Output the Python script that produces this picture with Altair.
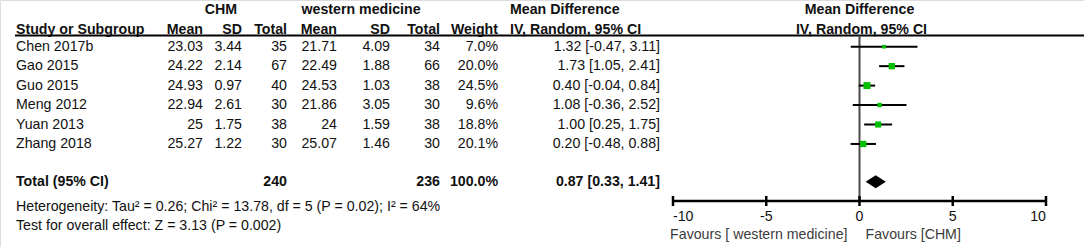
import altair as alt
import pandas as pd

# ---------------- data ----------------
studies = ["Chen 2017b", "Gao 2015", "Guo 2015", "Meng 2012", "Yuan 2013", "Zhang 2018"]
chm_mean = [23.03, 24.22, 24.93, 22.94, 25, 25.27]
chm_sd = [3.44, 2.14, 0.97, 2.61, 1.75, 1.22]
chm_total = [35, 67, 40, 30, 38, 30]
wm_mean = [21.71, 22.49, 24.53, 21.86, 24, 25.07]
wm_sd = [4.09, 1.88, 1.03, 3.05, 1.59, 1.46]
wm_total = [34, 66, 38, 30, 38, 30]
weight = [7.0, 20.0, 24.5, 9.6, 18.8, 20.1]
md = [1.32, 1.73, 0.40, 1.08, 1.00, 0.20]
ci_lo = [-0.47, 1.05, -0.04, -0.36, 0.25, -0.48]
ci_hi = [3.11, 2.41, 0.84, 2.52, 1.75, 0.88]

total_label = "Total (95% CI)"
total_chm = 240
total_wm = 236
total_weight = 100.0
pooled_md = 0.87
pooled_lo = 0.33
pooled_hi = 1.41

heterogeneity = "Heterogeneity: Tau\u00b2 = 0.26; Chi\u00b2 = 13.78, df = 5 (P = 0.02); I\u00b2 = 64%"
overall_effect = "Test for overall effect: Z = 3.13 (P = 0.002)"
axis_ticks = [-10.0, -5.0, 0.0, 5.0, 10.0]
favours_left = "Favours [ western medicine]"
favours_right = "Favours [CHM]"

# ---------------- layout ----------------
W, H = 1084, 247
X0, PPU = 859.5, 18.65          # pixel of 0 and pixels per unit on the effect axis
Y0, ROW = 46.7, 19.45           # pixel of first study row and row pitch
FONT = "Liberation Sans"
FS = 14.2
TXT = "#111111"
GREEN = "#00c000"

xs = alt.Scale(domain=[-X0 / PPU, (W - X0) / PPU], nice=False, zero=False)
ys = alt.Scale(domain=[-Y0 / ROW, (H - Y0) / ROW], nice=False, zero=False, reverse=True)

def prow(px):
    """pixel -> row units for layout elements"""
    return (px - Y0) / ROW

def fmt(v):
    return f"{v:g}"

rows = pd.DataFrame({
    "row": list(range(len(studies))),
    "study": studies,
    "chm_mean": [fmt(v) for v in chm_mean],
    "chm_sd": [f"{v:.2f}" for v in chm_sd],
    "chm_total": [str(v) for v in chm_total],
    "wm_mean": [fmt(v) for v in wm_mean],
    "wm_sd": [f"{v:.2f}" for v in wm_sd],
    "wm_total": [str(v) for v in wm_total],
    "weight": weight,
    "weight_txt": [f"{v:.1f}%" for v in weight],
    "md": md,
    "lo": ci_lo,
    "hi": ci_hi,
    "md_txt": [f"{m:.2f} [{l:.2f}, {h:.2f}]" for m, l, h in zip(md, ci_lo, ci_hi)],
})

TOTAL_ROW = 6.94
total_df = pd.DataFrame({
    "row": [TOTAL_ROW],
    "label": [total_label],
    "chm_total": [str(total_chm)],
    "wm_total": [str(total_wm)],
    "weight_txt": [f"{total_weight:.1f}%"],
    "md_txt": [f"{pooled_md:.2f} [{pooled_lo:.2f}, {pooled_hi:.2f}]"],
})

half = 6.5 / ROW
diamond = pd.DataFrame({
    "x": [pooled_lo, pooled_md, pooled_hi],
    "y": [TOTAL_ROW, TOTAL_ROW - half, TOTAL_ROW],
    "y2": [TOTAL_ROW, TOTAL_ROW + half, TOTAL_ROW],
})

layers = []

def one(text):
    return pd.DataFrame({"t": [text]})

def fixed_text(text, x, y, align="left", bold=False, color=TXT):
    return alt.Chart(one(text)).mark_text(
        align=align, baseline="middle", font=FONT, fontSize=FS,
        fontWeight="bold" if bold else "normal", color=color
    ).encode(x=alt.value(x), y=alt.value(y), text="t:N")

AXIS_Y = 201

# study rows
col_specs = [
    ("study", 16, "left"),
    ("chm_mean", 203, "right"),
    ("chm_sd", 242, "right"),
    ("chm_total", 287, "right"),
    ("wm_mean", 337, "right"),
    ("wm_sd", 390, "right"),
    ("wm_total", 440, "right"),
    ("weight_txt", 498, "right"),
    ("md_txt", 660, "right"),
]
for field, px, al in col_specs:
    layers.append(
        alt.Chart(rows).mark_text(align=al, baseline="middle", font=FONT, fontSize=FS, color=TXT)
        .encode(x=alt.value(px), y=alt.Y("row:Q", scale=ys, axis=None), text=f"{field}:N")
    )

# total row
for field, px, al in [("label", 16, "left"), ("chm_total", 287, "right"),
                      ("wm_total", 440, "right"), ("weight_txt", 498, "right"),
                      ("md_txt", 660, "right")]:
    layers.append(
        alt.Chart(total_df).mark_text(align=al, baseline="middle", font=FONT, fontSize=FS,
                                      fontWeight="bold", color=TXT)
        .encode(x=alt.value(px), y=alt.Y("row:Q", scale=ys, axis=None), text=f"{field}:N")
    )

# headers
HY1, HY2 = 10, 30
layers += [
    fixed_text("CHM", 221, HY1, "center", True),
    fixed_text("western medicine", 361, HY1, "center", True),
    fixed_text("Mean Difference", 510, HY1, "left", True),
    fixed_text("Study or Subgroup", 16, HY2, "left", True),
    fixed_text("Mean", 203, HY2, "right", True),
    fixed_text("SD", 242, HY2, "right", True),
    fixed_text("Total", 287, HY2, "right", True),
    fixed_text("Mean", 337, HY2, "right", True),
    fixed_text("SD", 390, HY2, "right", True),
    fixed_text("Total", 440, HY2, "right", True),
    fixed_text("Weight", 498, HY2, "right", True),
    fixed_text("IV, Random, 95% CI", 510, HY2, "left", True),
]
for text, y, dx in [("Mean Difference", HY1, 0), ("IV, Random, 95% CI", HY2, 2)]:
    layers.append(
        alt.Chart(pd.DataFrame({"x": [0], "t": [text]})).mark_text(
            align="center", baseline="middle", font=FONT, fontSize=FS, fontWeight="bold",
            color=TXT, dx=dx)
        .encode(x=alt.X("x:Q", scale=xs, axis=None), y=alt.value(y), text="t:N")
    )

# header underline
layers.append(
    alt.Chart(one("")).mark_rule(color="#000000", strokeWidth=2)
    .encode(x=alt.value(15), x2=alt.value(W), y=alt.value(35.5))
)

# zero line
layers.append(
    alt.Chart(pd.DataFrame({"x": [0], "y": [prow(35.5)], "y2": [prow(AXIS_Y)]}))
    .mark_rule(color="#4a4a4a", strokeWidth=2)
    .encode(x=alt.X("x:Q", scale=xs, axis=None),
            y=alt.Y("y:Q", scale=ys, axis=None), y2="y2:Q")
)

# CI lines
layers.append(
    alt.Chart(rows).mark_rule(color="#000000", strokeWidth=2)
    .encode(x=alt.X("lo:Q", scale=xs, axis=None), x2="hi:Q",
            y=alt.Y("row:Q", scale=ys, axis=None))
)
# squares
layers.append(
    alt.Chart(rows).mark_square(color=GREEN, opacity=1, filled=True)
    .encode(x=alt.X("md:Q", scale=xs, axis=None),
            y=alt.Y("row:Q", scale=ys, axis=None),
            size=alt.Size("weight:Q", scale=alt.Scale(domain=[0, 25], range=[0, 50]), legend=None))
)
# diamond
layers.append(
    alt.Chart(diamond).mark_area(color="#000000", orient="vertical", opacity=1)
    .encode(x=alt.X("x:Q", scale=xs, axis=None),
            y=alt.Y("y:Q", scale=ys, axis=None), y2="y2:Q")
)

ticks_df = pd.DataFrame({
    "tv": axis_ticks,
    "lab": [fmt(v) for v in axis_ticks],
})
LAB_Y = 217
for sub, al in [(ticks_df.iloc[:1], "left"), (ticks_df.iloc[1:-1], "center"), (ticks_df.iloc[-1:], "right")]:
    layers.append(
        alt.Chart(sub).mark_text(align=al, baseline="middle", font=FONT, fontSize=FS, color=TXT)
        .encode(x=alt.X("tv:Q", scale=xs, axis=None), y=alt.value(LAB_Y), text="lab:N")
    )

# favours
FAV_Y = 235
for text, al, dx in [(favours_left, "right", -12), (favours_right, "left", 6)]:
    layers.append(
        alt.Chart(pd.DataFrame({"x": [0], "t": [text]})).mark_text(
            align=al, baseline="middle", font=FONT, fontSize=FS, color="#3c3c3c", dx=dx)
        .encode(x=alt.X("x:Q", scale=xs, axis=None), y=alt.value(FAV_Y), text="t:N")
    )

# footer
layers += [
    fixed_text(heterogeneity, 16, 207),
    fixed_text(overall_effect, 16, 226),
]

# manual effect axis, drawn last (line + ticks through the effect scale)
axis_df = pd.DataFrame({"lo": [axis_ticks[0]], "hi": [axis_ticks[-1]], "row": [prow(AXIS_Y)]})
layers.append(
    alt.Chart(axis_df).mark_rule(color="#000000", strokeWidth=2.5)
    .encode(x=alt.X("lo:Q", scale=xs, axis=None), x2="hi:Q",
            y=alt.Y("row:Q", scale=ys, axis=None))
)
tick_rules = pd.DataFrame({
    "tv": axis_ticks,
    "ty": [prow(AXIS_Y - 5)] * len(axis_ticks),
    "ty2": [prow(AXIS_Y + 5)] * len(axis_ticks),
})
layers.append(
    alt.Chart(tick_rules).mark_rule(color="#000000", strokeWidth=2.5)
    .encode(x=alt.X("tv:Q", scale=xs, axis=None),
            y=alt.Y("ty:Q", scale=ys, axis=None), y2="ty2:Q")
)

chart = alt.layer(*layers).properties(
    width=W, height=H, autosize=alt.AutoSizeParams(type="none"), padding=0
).configure_view(stroke=None).configure(background="white")

chart.save("out.html", embed_options={"renderer": "svg", "actions": False})
